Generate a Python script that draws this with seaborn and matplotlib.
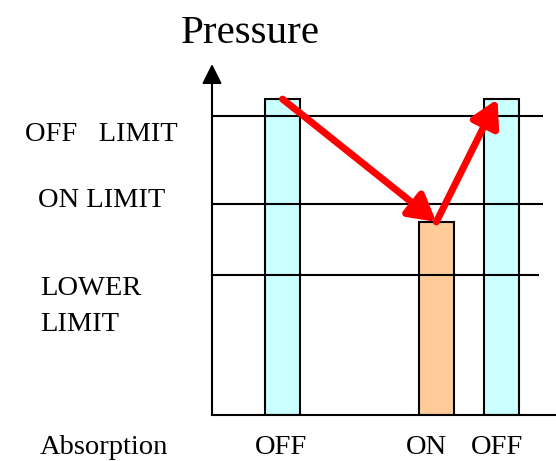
import matplotlib
matplotlib.use("Agg")
import matplotlib.pyplot as plt
import seaborn as sns
import pandas as pd

# ---- data ----
phases = ["OFF", "ON", "OFF"]          # absorption state of each bar
times = [2.05, 6.52, 8.42]              # position of each bar along the time axis
pressures = [90, 55, 90]                # pressure reached in each phase
limit_names = ["OFF   LIMIT", "ON LIMIT", "LOWER", "LIMIT"]
limit_values = [85.2, 60.1, 39.9]
state_colors = {"OFF": "#CCFFFF", "ON": "#FFCC99"}

sns.set_theme(style="white")
plt.rcParams["font.family"] = ["Liberation Serif", "DejaVu Serif"]
plt.rcParams["text.color"] = "black"

W, H = 556, 461
fig = plt.figure(figsize=(W / 100, H / 100), dpi=100)
ax_left, ax_bottom, ax_right, ax_top = 212, 415, 556, 64
ax = fig.add_axes([ax_left / W, 1 - ax_bottom / H,
                   (ax_right - ax_left) / W, (ax_bottom - ax_top) / H])

df = pd.DataFrame({"time": times, "pressure": pressures, "state": phases})
st = sorted(times)
min_gap = min(b - a for a, b in zip(st[:-1], st[1:]))
sns.barplot(data=df, x="time", y="pressure", hue="state", palette=state_colors,
            native_scale=True, dodge=False, width=1.02 / min_gap, saturation=1,
            edgecolor="black", linewidth=1.5, legend=False, ax=ax, zorder=1)

ax.set_xlim(0, 10)
ax.set_ylim(0, 100)

# limit lines (drawn over bars)
line_ends = [9.62, 9.62, 9.5]
for val, xe in zip(limit_values, line_ends):
    ax.plot([0, xe], [val, val], color="black", lw=1.5, zorder=3,
            solid_capstyle="butt")

# spines
for s in ["top", "right", "left"]:
    ax.spines[s].set_visible(False)
ax.spines["bottom"].set_color("black")
ax.spines["bottom"].set_linewidth(1.5)
ax.set_xticks([])
ax.set_yticks([])
ax.set_xlabel("")
ax.set_ylabel("")

# y axis arrow
ax.annotate("", xy=(0, 1), xytext=(0, 0), xycoords="axes fraction",
            textcoords="axes fraction",
            arrowprops=dict(arrowstyle="-|>,head_length=0.6,head_width=0.3",
                            color="black", lw=1.5, shrinkA=0, shrinkB=0,
                            mutation_scale=20), annotation_clip=False, zorder=4)

# red cycle arrows
i_on = phases.index("ON")
for (x0, y0), (x1, y1) in [((times[0], pressures[0]), (times[i_on], pressures[i_on])),
                           ((times[i_on], pressures[i_on]), (times[2] - 0.12, pressures[2]))]:
    ax.annotate("", xy=(x1, y1), xytext=(x0, y0),
                arrowprops=dict(arrowstyle="-|>,head_length=0.8,head_width=0.45",
                                color="#FF0000", lw=5, shrinkA=0, shrinkB=0,
                                mutation_scale=20),
                annotation_clip=False, zorder=5)

fs = 20.5
# title
fig.text(250 / W, 1 - 43 / H, "Pressure", ha="center", va="baseline",
         fontsize=29.5, color="black")

# limit labels
label_pos = [(25, 141), (38, 207), (40, 295), (40, 331)]
for (lx, ly), name in zip(label_pos, limit_names):
    fig.text(lx / W, 1 - ly / H, name, ha="left", va="baseline",
             fontsize=fs, color="black")

# bottom row
base = 454
fig.text(40 / W, 1 - base / H, "Absorption", ha="left", va="baseline",
         fontsize=fs, color="black")
label_x = [281, 426, 497.5]
for lx, name in zip(label_x, phases):
    fig.text(lx / W, 1 - base / H, name, ha="center", va="baseline",
             fontsize=fs, color="black")

fig.savefig("out.png", dpi=100)
